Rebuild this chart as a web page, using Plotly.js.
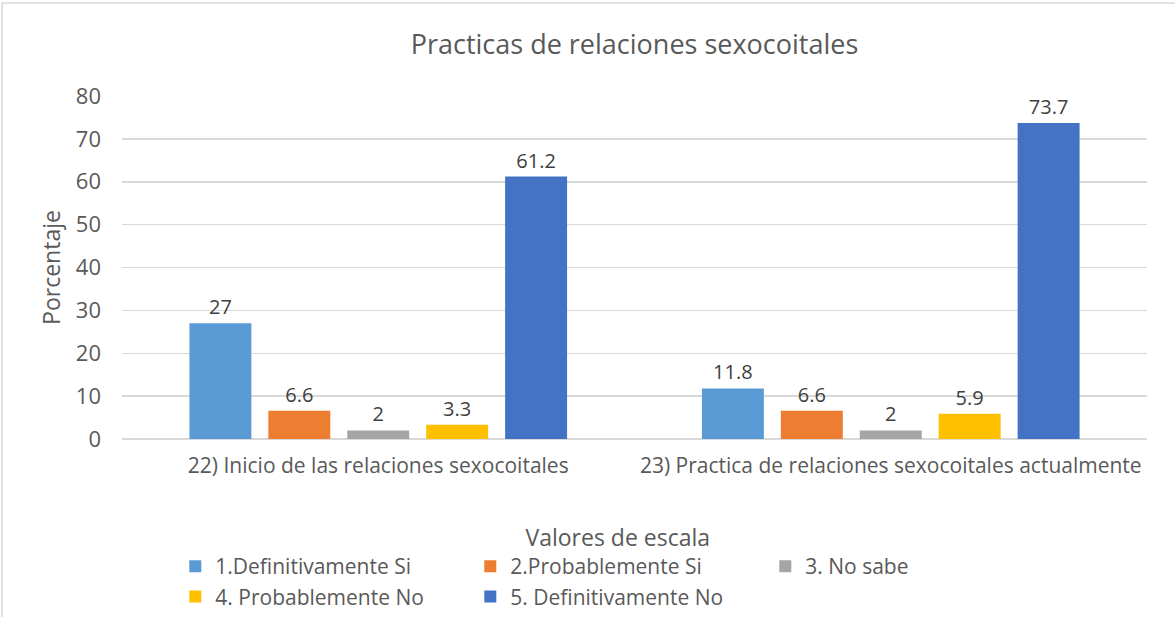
<!DOCTYPE html>
<html><head><meta charset="utf-8">
<script src="https://cdn.plot.ly/plotly-3.0.1.min.js"></script>
<style>html,body{margin:0;padding:0;background:#fff}</style>
</head><body>
<div id="chart" style="width:1175px;height:617px"></div>
<script>
const categories = ["22) Inicio de las relaciones sexocoitales", "23) Practica de relaciones sexocoitales actualmente"];
const seriesNames = ["1.Definitivamente Si", "2.Probablemente Si", "3. No sabe", "4. Probablemente No", "5. Definitivamente No"];
const definitivamenteSi = [27, 11.8];
const probablementeSi = [6.6, 6.6];
const noSabe = [2, 2];
const probablementeNo = [3.3, 5.9];
const definitivamenteNo = [61.2, 73.7];
const colors = ["#5B9BD5", "#ED7D31", "#A5A5A5", "#FFC000", "#4472C4"];
const values = [definitivamenteSi, probablementeSi, noSabe, probablementeNo, definitivamenteNo];

const FONT = "'Open Sans', sans-serif";
const traces = values.map((v, i) => ({
  type: "bar",
  name: seriesNames[i],
  x: categories,
  y: v,
  marker: {color: colors[i]},
  text: v.map(String),
  textposition: "outside",
  cliponaxis: false,
  textfont: {family: FONT, size: 20, color: "#404040"},
  hoverinfo: "skip"
}));

const layout = {
  width: 1175, height: 617,
  margin: {l: 122, r: 28, t: 96, b: 178, autoexpand: false},
  paper_bgcolor: "#fff", plot_bgcolor: "#fff",
  font: {family: FONT, color: "#595959", size: 20},
  title: {text: "Practicas de relaciones sexocoitales", font: {family: FONT, size: 27, color: "#595959"}, x: 0.5, xanchor: "center", xref: "paper", y: 0.928, yanchor: "middle"},
  barmode: "group",
  bargap: 0.23,
  bargroupgap: 0.215,
  xaxis: {showgrid: false, showline: false, ticks: "", ticklabelstandoff: 12, tickfont: {size: 21, color: "#595959"}},
  yaxis: {range: [0, 80], dtick: 10, showgrid: true, gridcolor: "#D9D9D9", gridwidth: 1.5, zeroline: true, zerolinecolor: "#D9D9D9", zerolinewidth: 1.5, ticks: "", ticklabelstandoff: 20, tickfont: {size: 22, color: "#595959"},
    title: {text: "Porcentaje", font: {size: 23, color: "#595959"}, standoff: 8}},
  showlegend: true,
  legend: {orientation: "h", x: 0.052, xanchor: "left", y: -0.225, yanchor: "top",
    entrywidth: 250, entrywidthmode: "pixels", traceorder: "normal",
    font: {size: 21, color: "#595959"}, itemwidth: 30, tracegroupgap: 0,
    title: {text: "Valores de escala", side: "top center", font: {size: 23, color: "#595959"}}},
  shapes: [
    {type: "rect", xref: "paper", yref: "paper", x0: -0.117, x1: 1.1, y0: -0.6, y1: 1.271, line: {color: "#D9D9D9", width: 1.5}, fillcolor: "rgba(0,0,0,0)", layer: "below"}
  ]
};
Plotly.newPlot("chart", traces, layout, {displayModeBar: false, staticPlot: true});
</script>
</body></html>
